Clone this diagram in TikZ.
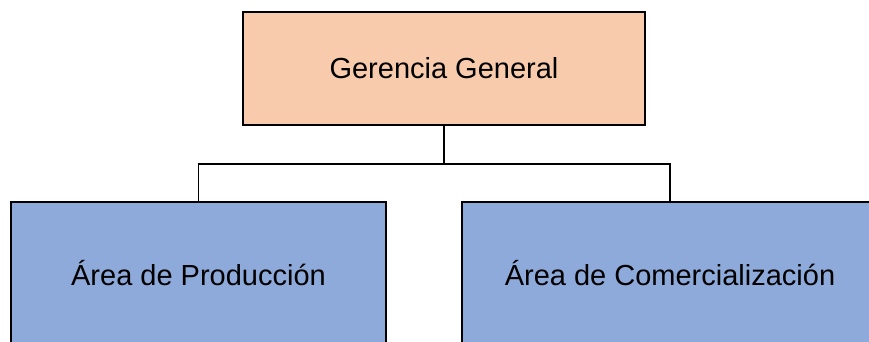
\documentclass[tikz,border=0pt]{standalone}
\usepackage{fontspec}
\setmainfont{Liberation Sans}
\usetikzlibrary{calc}
\definecolor{peach}{HTML}{F8CBAD}
\definecolor{bluebox}{HTML}{8EAADB}
\begin{document}
\begin{tikzpicture}[x=1pt,y=1pt,
  box/.style={draw=black, line width=1.6pt, inner sep=0pt, font=\fontsize{29}{34}\selectfont},
  conn/.style={draw=black, line width=1.6pt}]
\useasboundingbox (0,0) rectangle (869,341);
\node[box, fill=peach, minimum width=402pt, minimum height=113pt] (top) at (444,272.5) {Gerencia General};
\node[box, fill=bluebox, minimum width=375pt, minimum height=143pt] (left) at (198.5,67.5) {Área de Producción};
\node[box, fill=bluebox, minimum width=416pt, minimum height=143pt] (right) at (670,67.5) {Área de Comercialización};
\coordinate (mid) at ($(top.south)+(0,-38)$);
\draw[conn] (top.south) -- (mid) -| (left.north);
\draw[conn] (mid) -| (right.north);
\end{tikzpicture}
\end{document}
